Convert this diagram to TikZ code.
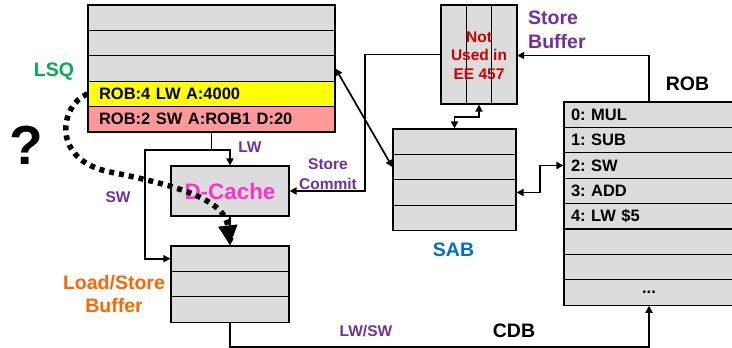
\documentclass[tikz,border=0pt]{standalone}
\usepackage{fontspec}
\setmainfont{Liberation Sans}
\usepackage{xcolor}
\usepackage{tikz}
\usetikzlibrary{arrows.meta}
\usetikzlibrary{backgrounds,calc}
\pgfdeclarelayer{edgelayer}
\pgfdeclarelayer{nodelayer}
\pgfsetlayers{background,edgelayer,nodelayer,main}
\frenchspacing
\definecolor{cellgray}{RGB}{220,220,220}
\definecolor{hityellow}{RGB}{255,255,0}
\definecolor{storepink}{RGB}{255,153,153}
\definecolor{lsqgreen}{RGB}{0,176,80}
\definecolor{tagpurple}{RGB}{112,48,160}
\definecolor{notered}{RGB}{204,0,0}
\definecolor{cachepink}{RGB}{255,51,204}
\definecolor{sabblue}{RGB}{0,112,192}
\definecolor{lsborange}{RGB}{255,102,0}
\newcommand{\rowfont}{\bfseries\fontsize{16.5}{19}\selectfont}
\newcommand{\notefont}{\bfseries\fontsize{15.5}{18.5}\selectfont}
\newcommand{\tagfont}{\bfseries\fontsize{15.5}{20}\selectfont}
\newcommand{\headfont}{\bfseries\fontsize{19.5}{23.5}\selectfont}
\newcommand{\cachefont}{\bfseries\fontsize{22.4}{26}\selectfont}
\newcommand{\askfont}{\bfseries\fontsize{55}{60}\selectfont}
\tikzstyle{none}=[inner sep=0mm]
\tikzstyle{cell}=[rectangle,draw=black,line width=1.1pt,fill=cellgray,inner sep=0pt,minimum height=25.4pt]
\tikzstyle{lsq cell}=[cell,text width=225pt,inner xsep=11pt,align=left,font=\rowfont]
\tikzstyle{rob cell}=[cell,text width=156pt,inner xsep=7pt,align=left,font=\rowfont]
\tikzstyle{sab cell}=[cell,minimum width=123pt]
\tikzstyle{lsb cell}=[cell,minimum width=118pt]
\tikzstyle{sb column}=[cell,minimum width=25.33pt,minimum height=99pt]
\tikzstyle{cache box}=[cell,minimum width=118pt,minimum height=50pt,font=\cachefont,text=cachepink]
\tikzstyle{heading}=[none,font=\headfont,align=center]
\tikzstyle{flow tag}=[none,font=\tagfont,text=tagpurple,align=center]
\tikzstyle{link}=[line width=1.7pt,-{Triangle[length=7pt,width=7pt]}]
\tikzstyle{both link}=[line width=1.7pt,{Triangle[length=7pt,width=7pt]}-{Triangle[length=7pt,width=7pt]}]
\tikzstyle{plain link}=[line width=1.7pt]
\tikzstyle{guess}=[line width=5.5pt,dash pattern=on 5pt off 5pt,-{Triangle[length=20pt,width=18pt]}]

\begin{document}
\begin{tikzpicture}[x=1pt,y=-1pt]
	\useasboundingbox (0,0) rectangle (732,348);
	\begin{pgfonlayer}{nodelayer}
		% load/store queue
		\node [style={lsq cell}] (lsq1) at (211.5, 17.7) {};
		\node [style={lsq cell}] (lsq2) at (211.5, 43.1) {};
		\node [style={lsq cell}] (lsq3) at (211.5, 68.5) {};
		\node [style={lsq cell},fill=hityellow] (lsq4) at (211.5, 93.9) {ROB:4 LW A:4000};
		\node [style={lsq cell},fill=storepink] (lsq5) at (211.5, 119.3) {ROB:2 SW A:ROB1 D:20};
		% store buffer
		\node [style={sb column}] (sbc1) at (453.67, 54.5) {};
		\node [style={sb column}] (sbc2) at (479, 54.5) {};
		\node [style={sb column}] (sbc3) at (504.33, 54.5) {};
		\node [style=none,font=\notefont,text=notered,align=center,minimum width=76pt,minimum height=99pt] (sbuf) at (479, 55.5) {Not\\Used in\\EE 457};
		% store address buffer
		\node [style={sab cell}] (sab1) at (454.5, 141.7) {};
		\node [style={sab cell}] (sab2) at (454.5, 167.1) {};
		\node [style={sab cell}] (sab3) at (454.5, 192.5) {};
		\node [style={sab cell}] (sab4) at (454.5, 217.9) {};
		% reorder buffer
		\node [style={rob cell}] (rob1) at (649, 114.7) {0: MUL};
		\node [style={rob cell}] (rob2) at (649, 140.1) {1: SUB};
		\node [style={rob cell}] (rob3) at (649, 165.5) {2: SW};
		\node [style={rob cell}] (rob4) at (649, 190.9) {3: ADD};
		\node [style={rob cell}] (rob5) at (649, 216.3) {4: LW \$5};
		\node [style={rob cell}] (rob6) at (649, 241.7) {};
		\node [style={rob cell}] (rob7) at (649, 267.1) {};
		\node [style={rob cell},align=center] (rob8) at (649, 292.5) {...};
		% cache and load/store buffer
		\node [style={cache box}] (dcache) at (230, 191) {D-Cache};
		\node [style={lsb cell}] (lsb1) at (230, 258.7) {};
		\node [style={lsb cell}] (lsb2) at (230, 284.1) {};
		\node [style={lsb cell}] (lsb3) at (230, 309.5) {};
		% labels
		\node [style=heading,text=lsqgreen] (lsqname) at (54, 72) {LSQ};
		\node [style=heading,text=tagpurple,align=left,anchor=west] (sbname) at (528, 30) {Store\\Buffer};
		\node [style=heading] (robname) at (687.5, 83.5) {ROB};
		\node [style=heading,text=sabblue] (sabname) at (453.5, 250) {SAB};
		\node [style=heading,text=lsborange] (lsbname) at (114, 294) {Load/Store\\Buffer};
		\node [style=heading] (cdbname) at (514, 331) {CDB};
		\node [style={flow tag}] (lwtag) at (250, 147) {LW};
		\node [style={flow tag}] (swtag) at (118, 197) {SW};
		\node [style={flow tag}] (committag) at (328, 174) {Store\\Commit};
		\node [style={flow tag}] (cdbtag) at (366, 331) {LW/SW};
		\node [style=none,font=\askfont] (ask) at (26, 145) {?};
		\coordinate (split) at (211.5, 150);
		\coordinate (swturn) at (145, 150);
		\coordinate (commit) at (365, 54.5);
		\coordinate (sbjog) at (479, 117);
		\coordinate (robjog) at (540, 192.5);
		\coordinate (cdb) at (649, 347);
	\end{pgfonlayer}
	\begin{pgfonlayer}{edgelayer}
		\draw [style={plain link}] (lsq5.south) to (split);
		\draw [style=link] (split) -| (dcache.north);
		\draw [style=link] (split) to (swturn) |- (lsb1.west);
		\draw [style=link] (dcache.south) to (lsb1.north);
		\draw [style=link] (lsb3.south) |- (cdb) to (rob8.south);
		\draw [style=link] (rob1.north) |- (sbuf.east);
		\draw [style=link] (sbuf.west |- commit) to (commit) |- (dcache.east);
		\draw [style={both link}] (lsq3.east) to (sab2.west);
		\draw [style={both link}] (sab1.north) |- (sbjog) to (sbc2.south);
		\draw [style={both link}] (sab3.east) to (robjog) |- (rob3.west);
	\end{pgfonlayer}
	\draw [style=guess] (lsq4.west) .. controls (60, 105) and (50, 160) .. (110, 172) .. controls (180, 186) and (225, 200) .. (lsb1.north);
\end{tikzpicture}
\end{document}
